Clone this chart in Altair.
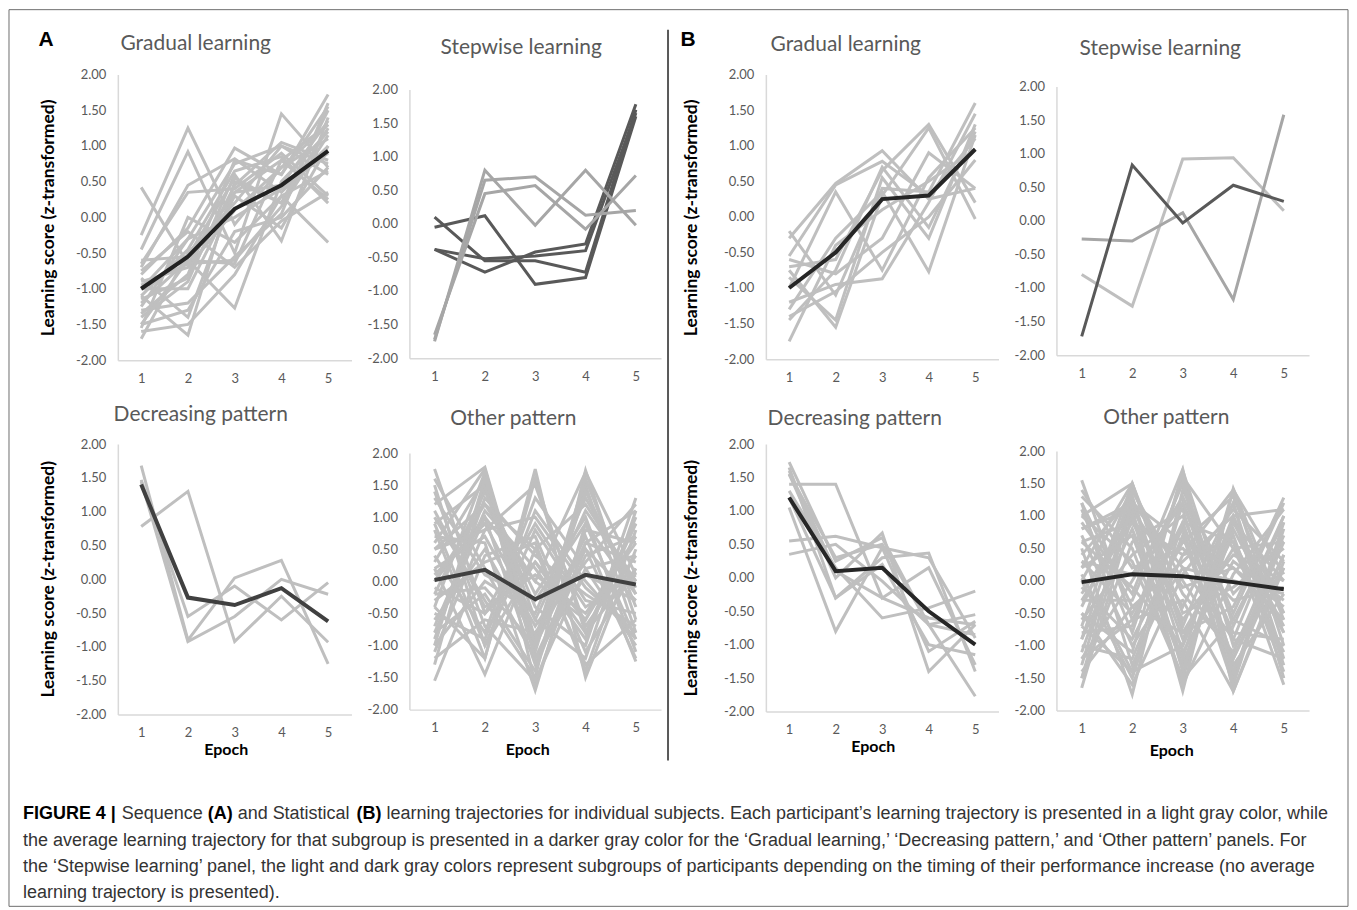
import altair as alt
import pandas as pd

EPOCHS = [1, 2, 3, 4, 5]
Y_TICKS = [-2.0, -1.5, -1.0, -0.5, 0.0, 0.5, 1.0, 1.5, 2.0]

# ---------------- (A) Sequence learning ----------------
A_GRADUAL = [
    [0.42, -0.65, 0.35, 0.80, 1.30],
    [-0.25, 1.25, -0.10, 0.70, 1.10],
    [-0.45, 0.92, -0.50, 1.45, 0.70],
    [-0.70, 0.45, 0.82, 0.35, 1.00],
    [-0.65, 0.35, 0.40, 0.90, 0.30],
    [-0.80, -0.15, 0.97, 0.60, 1.72],
    [-1.00, -0.30, 0.75, 1.00, 0.60],
    [-1.10, -1.65, 0.50, 0.20, 1.50],
    [-1.20, -0.60, -1.27, 0.50, 1.20],
    [-1.30, -1.20, -0.55, 0.05, 1.60],
    [-1.40, -0.90, 0.60, -0.33, 1.40],
    [-1.50, -0.60, -0.65, 0.80, 0.25],
    [-1.60, -1.50, -0.80, 0.30, -0.35],
    [-1.70, -0.50, 0.20, 1.00, 0.75],
    [-0.90, -0.70, 0.10, 0.70, 1.30],
    [-1.00, -1.00, 0.30, -0.15, 1.00],
    [-0.60, -0.55, 0.55, 0.20, 1.25],
    [-1.25, -0.30, 0.00, 0.40, 0.90],
    [-1.50, -1.30, -0.20, 0.00, 0.70],
    [-1.35, -0.80, 0.80, 0.60, 1.55],
    [-0.95, -0.65, -0.60, 0.15, 1.15],
    [-1.10, -0.45, 0.65, 0.85, 0.20],
    [-0.85, -1.40, 0.35, 0.45, 1.35],
    [-1.55, 0.00, -0.35, 0.30, 0.65],
    [-0.75, -0.20, -0.70, -0.05, 0.35],
    [-1.15, -0.85, 0.45, 1.05, 0.80],
]
A_GRADUAL_MEAN = [-1.00, -0.55, 0.12, 0.45, 0.93]

A_STEPWISE_DARK = [
    [-0.05, 0.12, -0.90, -0.80, 1.60],
    [0.10, -0.55, -0.55, -0.72, 1.70],
    [-0.38, -0.72, -0.42, -0.30, 1.78],
    [-0.38, -0.52, -0.48, -0.40, 1.65],
]
A_STEPWISE_LIGHT = [
    [-1.72, 0.65, 0.70, 0.13, 0.20],
    [-1.65, 0.45, 0.57, -0.08, 0.72],
    [-1.75, 0.80, -0.02, 0.80, -0.02],
]

A_DECREASING = [
    [0.78, 1.30, -0.92, -0.25, -0.93],
    [1.68, -0.90, 0.02, 0.28, -1.25],
    [1.47, -0.55, -0.10, -0.60, -0.05],
    [1.45, -0.92, -0.55, 0.00, -0.22],
]
A_DECREASING_MEAN = [1.40, -0.27, -0.38, -0.13, -0.62]

A_OTHER = [
    [1.75, -0.50, 0.30, -0.80, 0.20],
    [1.60, 0.20, -1.20, 0.50, -0.30],
    [1.50, -1.00, 0.80, -0.40, 0.10],
    [1.20, 1.78, -0.90, 0.70, -1.25],
    [1.00, -0.30, -1.50, 1.73, -0.60],
    [0.90, 1.50, -0.40, -1.00, 1.30],
    [0.80, -1.20, 1.75, -1.50, 0.50],
    [0.70, 0.60, -1.70, 0.90, -0.20],
    [0.50, 1.20, 0.00, -0.60, 0.90],
    [0.40, -0.80, 1.30, 0.20, -1.00],
    [0.30, 1.60, -1.10, 1.50, -0.80],
    [0.20, -1.45, 0.50, 1.20, 0.00],
    [0.10, 0.90, -0.60, -1.20, 1.10],
    [0.00, 1.00, -1.30, 0.40, 0.70],
    [-0.10, -0.50, 0.90, -0.30, -0.50],
    [-0.20, 1.40, -0.20, 1.00, -1.10],
    [-0.30, 0.30, 0.60, -1.40, 0.80],
    [-0.40, 1.70, -1.60, 0.60, 0.30],
    [-0.50, -0.90, 1.10, 0.00, -0.90],
    [-0.60, 0.50, -0.90, 1.60, -0.40],
    [-0.70, 1.10, 0.20, -0.90, 1.00],
    [-0.80, -0.20, -1.40, 0.80, 0.60],
    [-0.90, 1.30, 0.40, -0.20, -0.70],
    [-1.00, 0.00, -0.50, 1.30, -0.10],
    [-1.10, 0.80, 1.50, -0.70, 0.40],
    [-1.20, -0.60, -0.80, 0.30, 1.20],
    [-1.30, 1.50, -1.20, 0.10, -0.30],
    [-1.55, 0.40, 0.70, -1.10, 0.20],
    [1.30, 0.10, -0.30, 0.90, -0.90],
    [1.10, -0.40, 0.10, -0.50, 0.60],
    [0.60, 1.75, -1.00, 1.40, -0.20],
    [-0.40, -1.20, 1.60, -0.80, 0.90],
    [0.20, 0.70, -0.70, 0.50, -1.20],
    [-0.80, 1.00, 0.00, 1.70, 0.10],
    [1.40, -0.70, -1.55, 0.20, 0.40],
    [0.00, 1.20, 0.50, -1.30, -0.60],
    [-0.20, -0.10, -1.00, 0.60, 1.10],
    [0.50, 0.80, 1.00, -0.10, -0.80],
    [-1.00, 1.60, -0.60, 1.10, 0.00],
    [0.90, -1.00, 0.30, -0.60, 0.70],
]
A_OTHER_MEAN = [0.02, 0.18, -0.28, 0.10, -0.05]

# ---------------- (B) Statistical learning ----------------
B_GRADUAL = [
    [-0.20, -1.10, 0.40, 0.35, 1.60],
    [-0.30, 0.47, 0.93, 0.25, 0.40],
    [-0.55, 0.45, 0.78, 0.30, 1.10],
    [-0.70, -0.60, 0.65, 1.30, 0.20],
    [-0.75, -1.55, 0.30, 1.25, -0.03],
    [-0.85, -1.45, 0.55, -0.30, 1.30],
    [-1.00, 0.35, -0.75, 0.55, 1.25],
    [-1.20, -0.95, -0.87, 0.20, 1.45],
    [-1.30, -0.30, 0.35, -0.77, 1.15],
    [-1.40, -1.05, -0.50, 0.00, 0.80],
    [-1.45, -0.75, 0.70, -0.15, 1.20],
    [-1.75, -0.40, 0.10, 0.50, 0.95],
    [-0.60, -0.80, -0.30, 0.90, 0.40],
]
B_GRADUAL_MEAN = [-1.00, -0.50, 0.25, 0.30, 0.95]

B_STEPWISE_DARK = [[-1.72, 0.83, -0.03, 0.53, 0.29]]
B_STEPWISE_MID = [[-0.27, -0.30, 0.12, -1.17, 1.58]]
B_STEPWISE_LIGHT = [[-0.80, -1.27, 0.92, 0.94, 0.15]]

B_DECREASING = [
    [1.73, 0.25, 0.60, -0.70, -1.77],
    [1.65, -0.30, 0.30, 0.37, -1.40],
    [1.55, 0.00, 0.67, -1.40, -0.70],
    [1.40, 1.40, -0.30, 0.15, -1.30],
    [1.30, 0.15, -0.60, -0.45, -0.20],
    [1.05, -0.80, 0.45, -1.10, -0.65],
    [0.55, 0.62, 0.45, 0.30, -0.90],
    [0.35, 0.50, -0.05, -0.70, -0.85],
    [1.55, 0.30, 0.50, -0.70, -0.55],
    [1.20, -0.30, 0.20, -1.00, -1.15],
    [1.60, 0.10, -0.30, -0.60, -0.70],
]
B_DECREASING_MEAN = [1.20, 0.10, 0.15, -0.50, -1.00]

B_OTHER = [
    [1.55, -0.60, 0.90, -1.20, 0.40],
    [1.30, 0.50, -1.50, 1.00, -0.80],
    [1.20, -1.30, 0.40, 0.60, -1.60],
    [1.00, 1.50, -0.80, -0.40, 1.28],
    [0.90, -0.20, 1.72, -1.70, 0.20],
    [0.80, 1.10, -1.70, 1.42, -0.50],
    [0.70, -1.00, 0.20, -0.90, 1.00],
    [0.60, 0.90, -0.40, 1.20, -1.20],
    [0.50, -1.75, 1.40, -0.20, 0.60],
    [0.40, 1.30, -1.10, 0.30, -0.30],
    [0.30, -0.50, 0.80, -1.50, 0.90],
    [0.20, 0.70, -1.30, 0.90, 0.00],
    [0.10, -1.40, 1.20, -0.60, -1.00],
    [0.00, 1.40, -0.20, -1.10, 0.70],
    [-0.10, -0.90, 0.60, 1.30, -0.60],
    [-0.20, 1.00, -1.60, 0.10, 1.10],
    [-0.30, -0.30, 1.50, -1.30, -0.20],
    [-0.40, 1.20, -0.90, 0.70, -1.40],
    [-0.50, -1.60, 0.10, 1.10, 0.30],
    [-0.60, 0.40, 1.00, -0.80, -0.90],
    [-0.70, 1.50, -0.50, -0.10, 0.50],
    [-0.80, -0.70, 1.60, 0.50, -1.10],
    [-0.90, 0.80, -1.20, 1.40, 0.10],
    [-1.00, -1.20, 0.70, -1.60, 0.80],
    [-1.10, 1.10, -0.10, 0.20, -0.40],
    [-1.20, 0.00, 1.30, -0.50, 1.20],
    [-1.30, 1.30, -1.40, 0.80, -0.70],
    [-1.40, -0.40, 0.30, 1.00, -1.30],
    [-1.50, 0.60, 1.10, -1.40, 0.40],
    [-1.65, 1.00, -0.60, 0.40, 0.00],
    [1.40, 0.20, 0.50, -0.30, -0.10],
    [1.10, -0.80, 1.60, -1.00, 0.20],
    [0.20, 1.50, -0.70, 1.20, -1.50],
    [-0.50, -1.10, 1.70, -0.70, 1.00],
    [0.60, -0.10, -1.00, 0.90, -0.50],
    [-0.90, 1.40, 0.00, -1.20, 0.60],
    [0.00, -1.50, 0.90, 0.60, -0.80],
    [1.00, 0.30, -1.50, -0.60, 0.90],
    [-0.30, 0.90, 0.40, 1.40, -1.00],
    [-1.20, -0.60, -0.30, -1.70, 0.30],
    [0.80, 1.20, 0.20, 0.00, -0.20],
    [-0.70, -1.40, -1.00, 1.00, 1.10],
    [0.30, 0.10, 1.20, -0.90, -1.20],
    [-1.50, 1.20, 0.60, 0.20, -0.60],
    [1.20, -0.40, -0.80, 0.50, 0.60],
]
B_OTHER_MEAN = [-0.02, 0.10, 0.07, -0.02, -0.13]

CAPTION_L1 = [
    ("FIGURE 4 |", "bold", -95),
    ("Sequence", "normal", 4),
    ("(A)", "bold", 90),
    ("and Statistical", "normal", 120),
    ("(B)", "bold", 239),
    ("learning trajectories for individual subjects. Each participant\u2019s learning trajectory is presented in a light gray color, while", "normal", 269),
]
CAPTION_REST = [
    "the average learning trajectory for that subgroup is presented in a darker gray color for the \u2018Gradual learning,\u2019 \u2018Decreasing pattern,\u2019 and \u2018Other pattern\u2019 panels. For",
    "the \u2018Stepwise learning\u2019 panel, the light and dark gray colors represent subgroups of participants depending on the timing of their performance increase (no average",
    "learning trajectory is presented).",
]

# ---------------- styling ----------------
FONT = "Lato"
CAP_FONT = "Liberation Sans"
CAP_SIZE = 18
LIGHT = "#BFBFBF"
LABEL_EXPR = "replace(format(datum.value, '.2f'), '\u2212', '-')"


def long_df(trajs, tag):
    rows = []
    for i, t in enumerate(trajs):
        for e, v in zip(EPOCHS, t):
            rows.append({"id": f"{tag}{i}", "epoch": e, "score": v})
    return pd.DataFrame(rows)


def text_layer(text, x, y, size, color="#595959", weight="normal", font=FONT,
               align="center", baseline="middle"):
    return alt.Chart(pd.DataFrame({"t": [text]})).mark_text(
        font=font, fontSize=size, color=color, fontWeight=weight,
        align=align, baseline=baseline,
    ).encode(x=alt.value(x), y=alt.value(y), text="t:N")


def panel(w, xr, h, top, series, title, tpos, ytitle=None, xtitle=None, extras=()):
    xa = dict(labelAngle=0, ticks=False, grid=False, domainColor="#D9D9D9",
              domainWidth=1.5, labelColor="#595959", labelFont=FONT,
              labelFontSize=13, labelPadding=12)
    if xtitle:
        xa.update(title="Epoch", titleX=xtitle[0], titleY=xtitle[1], titleFont=FONT,
                  titleFontSize=16, titleFontWeight="bold", titleColor="#000000",
                  titleAlign="center", titleBaseline="middle")
    else:
        xa.update(title=None)
    ya = dict(values=Y_TICKS, labelExpr=LABEL_EXPR, ticks=False, grid=False,
              domainColor="#D9D9D9", domainWidth=1.5, labelColor="#595959",
              labelFont=FONT, labelFontSize=13, labelPadding=12)
    if ytitle:
        ya.update(title="Learning score (z-transformed)", titleX=ytitle[0],
                  titleY=ytitle[1], titleAngle=270, titleFont=FONT, titleFontSize=17.5,
                  titleFontWeight="bold", titleColor="#000000", titleAlign="center",
                  titleBaseline="middle")
    else:
        ya.update(title=None)
    x = alt.X("epoch:O", scale=alt.Scale(type="point", padding=0.5, domain=EPOCHS,
                                         range=[0, xr]),
              axis=alt.Axis(**xa))
    y = alt.Y("score:Q", scale=alt.Scale(domain=[-2, 2], range=[h, top], zero=False,
                                         nice=False), axis=alt.Axis(**ya))
    layers = []
    for df, color, sw in series:
        layers.append(alt.Chart(df).mark_line(color=color, strokeWidth=sw).encode(
            x=x, y=y, detail="id:N"))
    layers.append(text_layer(title, tpos[0], tpos[1], 21))
    layers.extend(extras)
    return alt.layer(*layers).properties(width=w, height=h)


# decorations anchored on the first panel (origin of panel A-gradual)
frame = alt.Chart(pd.DataFrame({"a": [0]})).mark_rect(
    fillOpacity=0, stroke="#6E6E6E", strokeWidth=1).encode(
    x=alt.value(-109), x2=alt.value(1232), y=alt.value(-65), y2=alt.value(833))
divider = alt.Chart(pd.DataFrame({"a": [0]})).mark_rule(
    color="#595959", strokeWidth=2).encode(
    x=alt.value(551), y=alt.value(-45), y2=alt.value(687))
extras = [frame, divider,
          text_layer("A", -72, -35, 21, color="#000000", weight="bold", font=CAP_FONT),
          text_layer("B", 571, -35, 21, color="#000000", weight="bold", font=CAP_FONT)]
for txt, wt, xx in CAPTION_L1:
    extras.append(text_layer(txt, xx, 741, CAP_SIZE,
                             color="#000000" if wt == "bold" else "#333333",
                             weight=wt, font=CAP_FONT, align="left"))
for k, line in enumerate(CAPTION_REST):
    extras.append(text_layer(line, -95, 768 + 26 * k, CAP_SIZE, color="#333333",
                             font=CAP_FONT, align="left"))

ag = panel(234, 234, 286, 0,
           [(long_df(A_GRADUAL, "ag"), LIGHT, 3),
            (long_df([A_GRADUAL_MEAN], "agm"), "#222222", 4)],
           "Gradual learning", (78, -31), ytitle=(-69, 143), extras=extras)
ast = panel(299, 252, 284, 15,
            [(long_df(A_STEPWISE_DARK, "asd"), "#595959", 3),
             (long_df(A_STEPWISE_LIGHT, "asl"), "#A6A6A6", 3)],
            "Stepwise learning", (112, -27))
ad = panel(234, 234, 271, 0,
           [(long_df(A_DECREASING, "ad"), LIGHT, 3),
            (long_df([A_DECREASING_MEAN], "adm"), "#404040", 4)],
           "Decreasing pattern", (83, -29), ytitle=(-69, 135), xtitle=(108, 35))
ao = panel(299, 252, 266, 9,
           [(long_df(A_OTHER, "ao"), LIGHT, 3),
            (long_df([A_OTHER_MEAN], "aom"), "#404040", 4)],
           "Other pattern", (104, -25), xtitle=(118, 40))

bg = panel(233, 233, 285, 0,
           [(long_df(B_GRADUAL, "bg"), LIGHT, 3),
            (long_df([B_GRADUAL_MEAN], "bgm"), "#262626", 4)],
           "Gradual learning", (80, -30), ytitle=(-74, 143))
bs = panel(253, 253, 281, 12,
           [(long_df(B_STEPWISE_LIGHT, "bsl"), LIGHT, 3),
            (long_df(B_STEPWISE_MID, "bsm"), "#A6A6A6", 3),
            (long_df(B_STEPWISE_DARK, "bsd"), "#595959", 3)],
           "Stepwise learning", (104, -26))
bd = panel(233, 233, 268, 0,
           [(long_df(B_DECREASING, "bd"), LIGHT, 3),
            (long_df([B_DECREASING_MEAN], "bdm"), "#262626", 4)],
           "Decreasing pattern", (89, -25), ytitle=(-74, 134), xtitle=(107, 35))
bo = panel(253, 253, 267, 7,
           [(long_df(B_OTHER, "bo"), LIGHT, 3),
            (long_df([B_OTHER_MEAN], "bom"), "#262626", 4)],
           "Other pattern", (110, -26), xtitle=(115, 40))

chart = alt.concat(ag, ast, bg, bs, ad, ao, bd, bo, columns=4, align="each",
                   bounds="flush", spacing={"row": 84, "column": 58}).properties(
    padding=0, background="#FFFFFF"
).configure_view(strokeWidth=0)

chart.save("out.html", embed_options={"renderer": "svg", "actions": False})
